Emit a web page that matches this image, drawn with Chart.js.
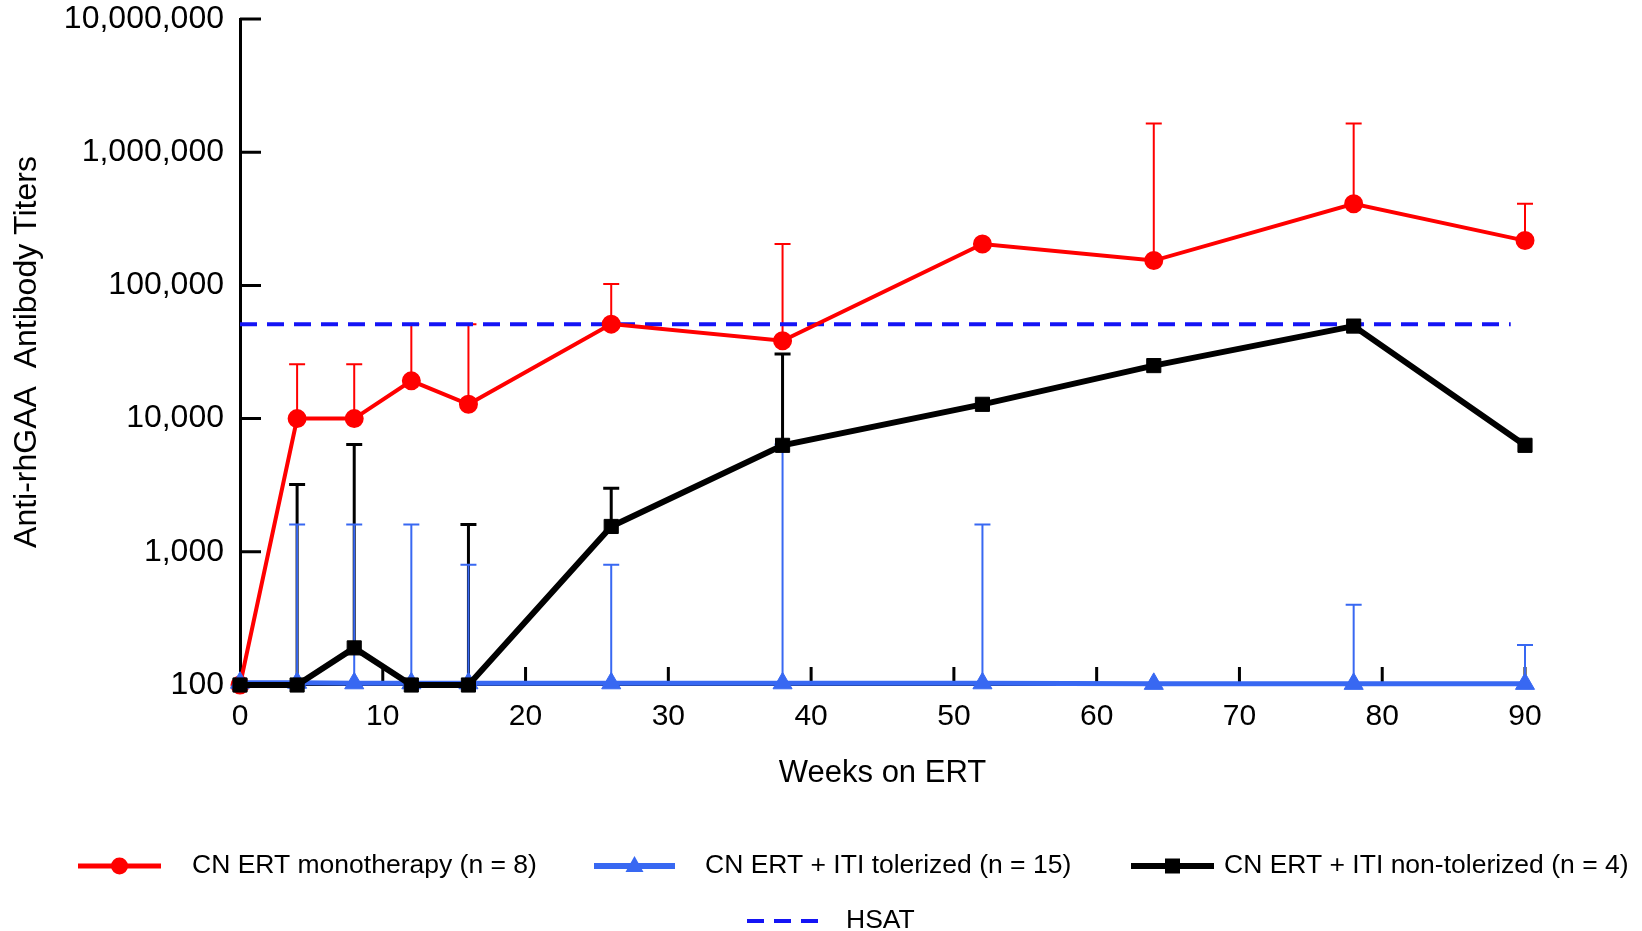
<!DOCTYPE html>
<html lang="en">
<head>
    <meta charset="UTF-8">
    <title>Anti-rhGAA Antibody Titers</title>
    <style>
        html, body { margin: 0; padding: 0; background: #fff; }
        .chart-box { width: 1642px; height: 931px; }
    </style>
</head>
<body>
    <div class="chart-box">
        <canvas id="myChart" width="1642" height="931"></canvas>
    </div>

    <script src="https://cdn.jsdelivr.net/npm/chart.js"></script>
    <script>
        // data
        const weeks = [0, 4, 8, 12, 16, 26, 38, 52, 64, 78, 90];

        const monotherapy    = [100, 10000, 10000, 19200, 12800, 51200, 38400, 204800, 153600, 409600, 217000];
        const monotherapyErr = [null, 25600, 25600, 51200, 51200, 102400, 204800, null, 1640000, 1640000, 409600];

        const tolerized    = [104, 104, 103, 103, 103, 103, 103, 103, 102, 102, 102];
        const tolerizedErr = [null, 1600, 1600, 1600, 800, 800, 6400, 1600, null, 400, 200];

        const nonTolerized    = [100, 100, 190, 100, 100, 1550, 6300, 12800, 25000, 49500, 6300];
        const nonTolerizedErr = [null, 3200, 6400, null, 1600, 3000, 30500, null, null, null, null];

        const hsat = 51200;
        const hsatWeeks = [0, 89];

        const xTicks = [0, 10, 20, 30, 40, 50, 60, 70, 80, 90];
        const yTicks = [100, 1000, 10000, 100000, 1000000, 10000000];

        const FONT = "'Liberation Sans', Arial, sans-serif";
        const RED = '#ff0000';
        const BLUE = '#3868f2';
        const DASH_BLUE = '#1414f5';

        Chart.defaults.font.family = FONT;
        Chart.defaults.color = '#000';

        const toPoints = vals => weeks.map((w, i) => ({ x: w, y: vals[i] }));

        // upper error bars, drawn under the lines
        const errorBars = {
            id: 'errorBars',
            beforeDatasetsDraw(chart) {
                const { ctx, scales: { x, y } } = chart;
                chart.data.datasets.forEach(ds => {
                    if (!ds.errors) return;
                    ctx.save();
                    ctx.strokeStyle = ds.errColor;
                    ctx.lineWidth = ds.errWidth;
                    ds.errors.forEach((hi, i) => {
                        if (hi == null) return;
                        const px = x.getPixelForValue(weeks[i]);
                        const p0 = y.getPixelForValue(ds.data[i].y);
                        const p1 = y.getPixelForValue(hi);
                        ctx.beginPath();
                        ctx.moveTo(px, p0);
                        ctx.lineTo(px, p1);
                        ctx.moveTo(px - 8, p1);
                        ctx.lineTo(px + 8, p1);
                        ctx.stroke();
                    });
                    ctx.restore();
                });
            }
        };

        // tick marks point into the plot
        const innerTicks = {
            id: 'innerTicks',
            beforeDatasetsDraw(chart) {
                const { ctx, chartArea, scales: { x, y } } = chart;
                ctx.save();
                ctx.strokeStyle = '#000';
                ctx.lineWidth = 3;
                ctx.beginPath();
                yTicks.forEach(v => {
                    const py = y.getPixelForValue(v);
                    ctx.moveTo(chartArea.left, py);
                    ctx.lineTo(chartArea.left + 21, py);
                });
                xTicks.slice(1).forEach(v => {
                    const px = x.getPixelForValue(v);
                    ctx.moveTo(px, chartArea.bottom);
                    ctx.lineTo(px, chartArea.bottom - 18);
                });
                ctx.stroke();
                ctx.restore();
            }
        };

        function marker(ctx, style, x, y, color) {
            ctx.fillStyle = color;
            ctx.beginPath();
            if (style === 'circle') {
                ctx.arc(x, y, 8.5, 0, Math.PI * 2);
            } else if (style === 'rect') {
                ctx.rect(x - 7.5, y - 7.5, 15, 15);
            } else {
                ctx.moveTo(x, y - 10);
                ctx.lineTo(x + 9, y + 6);
                ctx.lineTo(x - 9, y + 6);
                ctx.closePath();
            }
            ctx.fill();
        }

        // legend laid out like the original: three items, then HSAT below
        const legendItems = [
            { text: 'CN ERT monotherapy (n = 8)', color: RED, style: 'circle', x1: 78, x2: 161, tx: 192, y: 866, w: 5 },
            { text: 'CN ERT + ITI tolerized (n = 15)', color: BLUE, style: 'triangle', x1: 594, x2: 675, tx: 705, y: 866, w: 6 },
            { text: 'CN ERT + ITI non-tolerized (n = 4)', color: '#000', style: 'rect', x1: 1131, x2: 1214, tx: 1224, y: 866, w: 6 },
            { text: 'HSAT', color: DASH_BLUE, style: null, x1: 747, x2: 822, tx: 846, y: 921, w: 4 }
        ];

        const bottomLegend = {
            id: 'bottomLegend',
            afterDraw(chart) {
                const ctx = chart.ctx;
                ctx.save();
                legendItems.forEach(it => {
                    ctx.strokeStyle = it.color;
                    ctx.lineWidth = it.w;
                    ctx.setLineDash(it.style ? [] : [17, 10]);
                    ctx.beginPath();
                    ctx.moveTo(it.x1, it.y);
                    ctx.lineTo(it.x2, it.y);
                    ctx.stroke();
                    if (it.style) marker(ctx, it.style, (it.x1 + it.x2) / 2, it.y, it.color);
                    ctx.fillStyle = '#000';
                    ctx.font = '26.5px ' + FONT;
                    ctx.textBaseline = 'middle';
                    ctx.fillText(it.text, it.tx, it.y);
                });
                ctx.restore();
            }
        };

        const config = {
            type: 'line',
            data: {
                datasets: [
                    {
                        label: 'CN ERT + ITI non-tolerized (n = 4)',
                        data: toPoints(nonTolerized),
                        borderColor: '#000',
                        backgroundColor: '#000',
                        borderWidth: 6,
                        pointStyle: 'rect',
                        pointRadius: 10,
                        pointBorderWidth: 1,
                        clip: false,
                        errors: nonTolerizedErr, errColor: '#000', errWidth: 3
                    },
                    {
                        label: 'CN ERT + ITI tolerized (n = 15)',
                        data: toPoints(tolerized),
                        borderColor: BLUE,
                        backgroundColor: BLUE,
                        borderWidth: 5,
                        pointStyle: 'triangle',
                        pointRadius: 11,
                        pointBorderWidth: 1,
                        clip: false,
                        errors: tolerizedErr, errColor: BLUE, errWidth: 2
                    },
                    {
                        label: 'CN ERT monotherapy (n = 8)',
                        data: toPoints(monotherapy),
                        borderColor: RED,
                        backgroundColor: RED,
                        borderWidth: 4,
                        pointStyle: 'circle',
                        pointRadius: 8.5,
                        pointBorderWidth: 2,
                        clip: false,
                        errors: monotherapyErr, errColor: RED, errWidth: 2
                    },
                    {
                        label: 'HSAT',
                        data: hsatWeeks.map(w => ({ x: w, y: hsat })),
                        borderColor: DASH_BLUE,
                        borderWidth: 4,
                        borderDash: [17, 10],
                        pointRadius: 0,
                        clip: false
                    }
                ]
            },
            options: {
                responsive: false,
                animation: false,
                devicePixelRatio: 1,
                layout: { padding: { top: 19, right: 117, left: 0, bottom: 0 } },
                plugins: {
                    legend: { display: false },
                    tooltip: { enabled: false }
                },
                scales: {
                    x: {
                        type: 'linear',
                        min: 0,
                        max: 90,
                        afterBuildTicks: s => { s.ticks = xTicks.map(v => ({ value: v })); },
                        afterFit: s => { s.height = 246; },
                        grid: { display: false, drawTicks: false },
                        border: { display: true, color: '#000', width: 2 },
                        ticks: { font: { size: 30 }, color: '#000', padding: 14, maxRotation: 0, autoSkip: false },
                        title: { display: true, text: 'Weeks on ERT', font: { size: 31 }, color: '#000', padding: { top: 0, bottom: 139 } }
                    },
                    y: {
                        type: 'logarithmic',
                        min: 100,
                        max: 10000000,
                        afterBuildTicks: s => { s.ticks = yTicks.map(v => ({ value: v })); },
                        afterFit: s => { s.width = 240; s.paddingTop = 0; s.paddingBottom = 0; },
                        grid: { display: false, drawTicks: false },
                        border: { display: true, color: '#000', width: 3 },
                        ticks: {
                            font: { size: 32 }, color: '#000', padding: 16,
                            callback: v => Number(v).toLocaleString('en-US')
                        },
                        title: { display: true, text: 'Anti-rhGAA  Antibody Titers', font: { size: 32 }, color: '#000', padding: { top: 8, bottom: 0 } }
                    }
                }
            },
            plugins: [innerTicks, errorBars, bottomLegend]
        };

        const myChart = new Chart(document.getElementById('myChart'), config);
    </script>
</body>
</html>
